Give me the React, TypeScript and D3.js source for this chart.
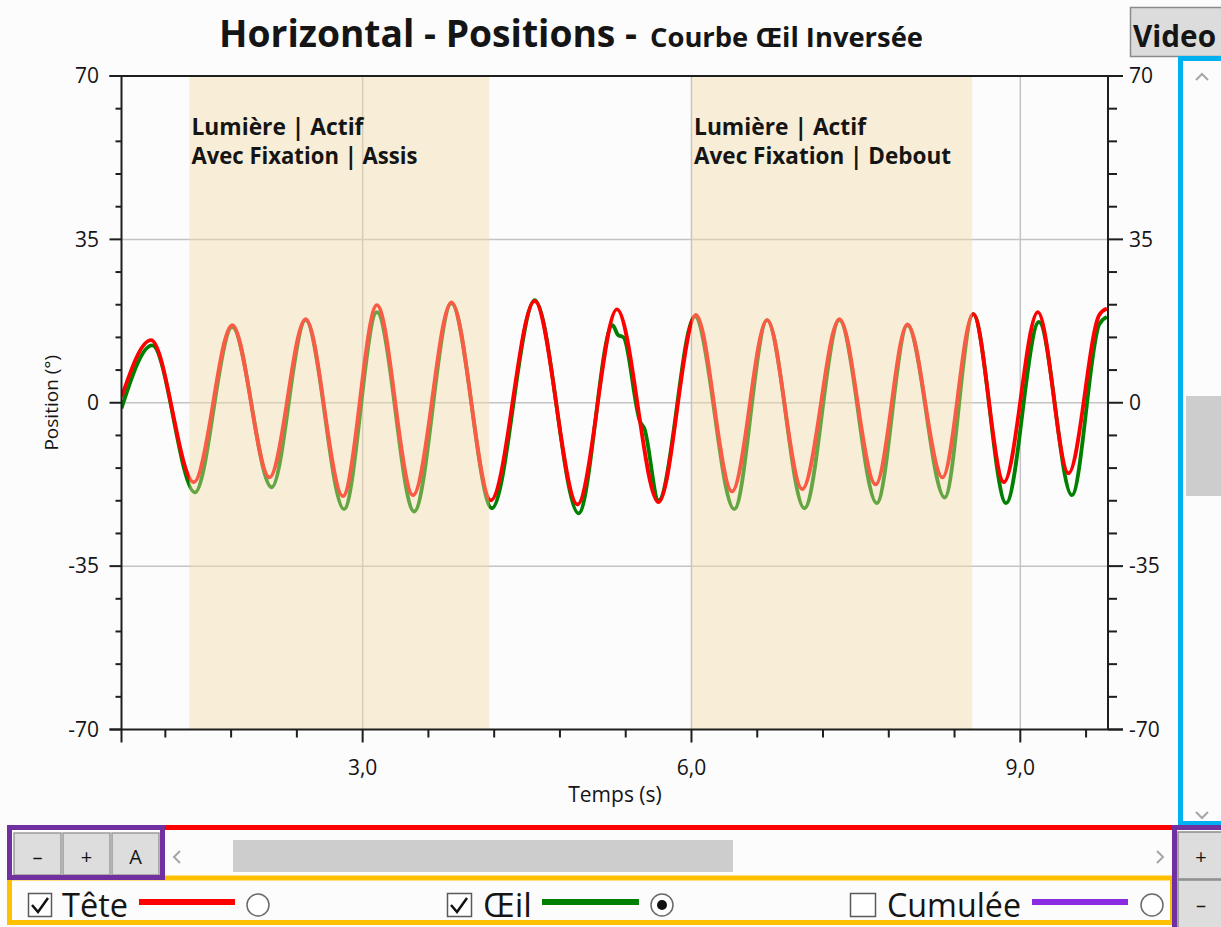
import React from "react";
import * as d3 from "d3";

// ---------- data ----------
const teteT = [0.80, 1.07, 1.46, 1.81, 2.15, 2.48, 2.82, 3.13, 3.46, 3.81, 4.17, 4.57, 4.96, 5.32, 5.70, 6.04, 6.37, 6.69, 7.01, 7.35, 7.68, 7.97, 8.29, 8.57, 8.85, 9.16, 9.44, 9.72, 9.79];
const teteV = [1.2, 13.4, -17.0, 16.6, -16.0, 17.9, -20.0, 20.9, -19.8, 21.5, -20.9, 21.8, -21.8, 20.0, -21.3, 18.8, -19.0, 17.7, -18.5, 17.9, -17.5, 16.8, -16.0, 19.0, -17.0, 19.4, -15.1, 18.8, 20.2];
const oeilT = [0.80, 1.08, 1.47, 1.81, 2.17, 2.48, 2.83, 3.13, 3.47, 3.81, 4.18, 4.57, 4.97, 5.28, 5.33, 5.38, 5.53, 5.57, 5.70, 6.03, 6.39, 6.69, 7.03, 7.35, 7.69, 7.97, 8.31, 8.57, 8.87, 9.17, 9.47, 9.72, 9.79];
const oeilV = [-1.2, 12.3, -19.2, 16.2, -18.1, 17.7, -22.8, 19.4, -23.3, 21.3, -22.6, 22.0, -23.7, 16.6, 14.5, 14.0, -4.0, -5.5, -20.9, 18.5, -22.8, 17.7, -22.6, 17.7, -21.5, 16.6, -20.3, 19.0, -21.5, 17.3, -19.8, 16.8, 18.4];

const regionStart = [1.42, 6.005];
const regionEnd = [4.155, 8.56];
const regionLine1 = ["Lumière | Actif", "Lumière | Actif"];
const regionLine2 = ["Avec Fixation | Assis", "Avec Fixation | Debout"];
const regionLen1 = [172, 172];
const regionLen2 = [226, 257];

const yMajor = [-70, -35, 0, 35, 70];
const yMajorLabels = ["-70", "-35", "0", "35", "70"];
const yMinor = [-63, -56, -49, -42, -28, -21, -14, -7, 7, 14, 21, 28, 42, 49, 56, 63];
const xMajor = [3, 6, 9];
const xMajorLabels = ["3,0", "6,0", "9,0"];
const xMinor = [1.2, 1.8, 2.4, 3.6, 4.2, 4.8, 5.4, 6.6, 7.2, 7.8, 8.4, 9.6];

const FONT = "'Open Sans', 'Noto Sans', sans-serif";
const TXT = "#151515";

export default function App() {
  const x = d3.scaleLinear().domain([0.8, 9.8]).range([121.5, 1108]);
  const y = d3.scaleLinear().domain([-70, 70]).range([729.5, 76]);

  const line = d3
    .line<number>()
    .x((d) => x(d[0]))
    .y((d) => y(d[1]))
    .curve(d3.curveMonotoneX);

  const tete = teteT.map((t, i) => [t, teteV[i]]);
  const oeil = oeilT.map((t, i) => [t, oeilV[i]]);

  const L = 121.5, R = 1108, T = 76, B = 729.5;

  return (
    <svg
      width={1221}
      height={927}
      style={{ position: "absolute", left: 0, top: 0, display: "block" }}
      fontFamily={FONT}
    >
      <rect x={0} y={0} width={1221} height={927} fill="#fcfcfc" />
      <defs>
        <clipPath id="plot">
          <rect x={L} y={T} width={R - L} height={B - T} />
        </clipPath>
      </defs>

      {/* Title */}
      <text x={219} y={47} fontWeight={700} fontSize={37} fill={TXT} textLength={418} lengthAdjust="spacingAndGlyphs">
        Horizontal - Positions -
      </text>
      <text x={650} y={47} fontWeight={700} fontSize={26} fill={TXT} textLength={273} lengthAdjust="spacingAndGlyphs">
        Courbe Œil Inversée
      </text>

      {/* Video button */}
      <rect x={1130.5} y={7.5} width={100} height={49} fill="#dcdcdc" stroke="#8a8a8a" strokeWidth={1.5} />
      <text x={1133} y={47} fontWeight={700} fontSize={31} fill={TXT} textLength={83} lengthAdjust="spacingAndGlyphs">
        Video
      </text>

      {/* plot background */}
      <rect x={L} y={T} width={R - L} height={B - T} fill="#fcfcfc" />

      {/* grid */}
      {yMajor.filter((v) => v !== 70 && v !== -70).map((v) => (
        <line key={"gy" + v} x1={L} x2={R} y1={y(v)} y2={y(v)} stroke="#c4c4c4" strokeWidth={1.5} />
      ))}
      {xMajor.map((v) => (
        <line key={"gx" + v} x1={x(v)} x2={x(v)} y1={T} y2={B} stroke="#c4c4c4" strokeWidth={1.5} />
      ))}

      {/* curves */}
      <g clipPath="url(#plot)">
        <path d={line(oeil as any) || ""} fill="none" stroke="#008000" strokeWidth={3.8} strokeLinejoin="round" />
        <path d={line(tete as any) || ""} fill="none" stroke="#ff0000" strokeWidth={3.8} strokeLinejoin="round" />
      </g>

      {/* shaded regions */}
      {regionStart.map((s, i) => (
        <g key={"reg" + i}>
          <rect x={x(s)} y={T} width={x(regionEnd[i]) - x(s)} height={B - T} fill="rgb(243,216,163)" fillOpacity={0.42} />
          <text x={x(s) + 2} y={135} fontWeight={700} fontSize={22.5} fill={TXT} textLength={regionLen1[i]} lengthAdjust="spacingAndGlyphs">
            {regionLine1[i]}
          </text>
          <text x={x(s) + 2} y={164} fontWeight={700} fontSize={22.5} fill={TXT} textLength={regionLen2[i]} lengthAdjust="spacingAndGlyphs">
            {regionLine2[i]}
          </text>
        </g>
      ))}

      {/* frame */}
      <line x1={L - 12} x2={R + 15} y1={T} y2={T} stroke="#1e1e1e" strokeWidth={2} />
      <line x1={L - 12} x2={R + 15} y1={B} y2={B} stroke="#1e1e1e" strokeWidth={2} />
      <line x1={L} x2={L} y1={T} y2={B + 13} stroke="#1e1e1e" strokeWidth={2} />
      <line x1={R} x2={R} y1={T} y2={B} stroke="#1e1e1e" strokeWidth={2} />

      {/* y ticks */}
      {yMajor.map((v, i) => (
        <g key={"ym" + v}>
          <line x1={L - 12} x2={L} y1={y(v)} y2={y(v)} stroke="#1e1e1e" strokeWidth={2} />
          <line x1={R} x2={R + 15} y1={y(v)} y2={y(v)} stroke="#1e1e1e" strokeWidth={2} />
          <text x={99} y={y(v)} dy="0.35em" textAnchor="end" fontSize={21} fill={TXT}>
            {yMajorLabels[i]}
          </text>
          <text x={1129} y={y(v)} dy="0.35em" textAnchor="start" fontSize={21} fill={TXT}>
            {yMajorLabels[i]}
          </text>
        </g>
      ))}
      {yMinor.map((v) => (
        <g key={"yn" + v}>
          <line x1={L - 6} x2={L} y1={y(v)} y2={y(v)} stroke="#1e1e1e" strokeWidth={2} />
          <line x1={R} x2={R + 9} y1={y(v)} y2={y(v)} stroke="#1e1e1e" strokeWidth={2} />
        </g>
      ))}

      {/* x ticks */}
      {xMajor.map((v, i) => (
        <g key={"xm" + v}>
          <line x1={x(v)} x2={x(v)} y1={B} y2={B + 13} stroke="#1e1e1e" strokeWidth={2} />
          <text x={x(v)} y={775} textAnchor="middle" fontSize={21} fill={TXT}>
            {xMajorLabels[i]}
          </text>
        </g>
      ))}
      {xMinor.map((v) => (
        <line key={"xn" + v} x1={x(v)} x2={x(v)} y1={B} y2={B + 8} stroke="#1e1e1e" strokeWidth={2} />
      ))}

      {/* axis titles */}
      <text x={615} y={802} textAnchor="middle" fontSize={21} fill={TXT}>
        Temps (s)
      </text>
      <text transform={`translate(58, ${y(0)}) rotate(-90)`} textAnchor="middle" fontSize={19} fill={TXT}>
        Position (°)
      </text>

      {/* right vertical scrollbar */}
      <rect x={1186} y={396} width={40} height={100} fill="#cdcdcd" />
      <polyline points="1196,80 1202,74 1208,80" fill="none" stroke="#a6a6a6" strokeWidth={2} />
      <polyline points="1196,812 1202,818 1208,812" fill="none" stroke="#a6a6a6" strokeWidth={2} />
      <rect x={1180.5} y={58.5} width={60} height={765} fill="none" stroke="#00b0f0" strokeWidth={5} />

      {/* horizontal scrollbar */}
      <rect x={165} y={830} width={1007} height={46} fill="#fcfcfc" />
      <rect x={233} y={840} width={500} height={32} fill="#cdcdcd" />
      <polyline points="180,851 174,857 180,863" fill="none" stroke="#a6a6a6" strokeWidth={2} />
      <polyline points="1157,851 1163,857 1157,863" fill="none" stroke="#a6a6a6" strokeWidth={2} />
      <rect x={165} y={825} width={1007} height={5} fill="#ff0000" />

      {/* legend */}
      <rect x={9.5} y={878} width={1163} height={44.5} fill="none" stroke="#ffc000" strokeWidth={5} />
      {/* Tête */}
      <rect x={28.5} y={893.5} width={23} height={23} fill="#fff" stroke="#5a5a5a" strokeWidth={1.5} />
      <polyline points="32,905 38,912 48,898" fill="none" stroke="#111" strokeWidth={2.5} />
      <text x={62} y={917} fontSize={33} fill={TXT} textLength={66} lengthAdjust="spacingAndGlyphs">Tête</text>
      <line x1={139} x2={235} y1={902} y2={902} stroke="#ff0000" strokeWidth={6} />
      <circle cx={258} cy={905} r={11} fill="#fff" stroke="#6a6a6a" strokeWidth={1.5} />
      {/* Œil */}
      <rect x={447.5} y={893.5} width={24} height={23} fill="#fff" stroke="#5a5a5a" strokeWidth={1.5} />
      <polyline points="451,905 457,912 467,898" fill="none" stroke="#111" strokeWidth={2.5} />
      <text x={483} y={917} fontSize={33} fill={TXT} textLength={49} lengthAdjust="spacingAndGlyphs">Œil</text>
      <line x1={542} x2={639} y1={902} y2={902} stroke="#008000" strokeWidth={6} />
      <circle cx={662} cy={905} r={11} fill="#fff" stroke="#6a6a6a" strokeWidth={1.5} />
      <circle cx={662} cy={905} r={5} fill="#111" />
      {/* Cumulée */}
      <rect x={850.5} y={893.5} width={25} height={23} fill="#fff" stroke="#5a5a5a" strokeWidth={1.5} />
      <text x={887} y={917} fontSize={33} fill={TXT} textLength={134} lengthAdjust="spacingAndGlyphs">Cumulée</text>
      <line x1={1032} x2={1128} y1={902} y2={902} stroke="#8a2be2" strokeWidth={6} />
      <circle cx={1152} cy={905} r={11} fill="#fff" stroke="#6a6a6a" strokeWidth={1.5} />

      {/* left buttons */}
      {[
        { x0: 14, w: 47, t: "–" },
        { x0: 63, w: 47, t: "+" },
        { x0: 112, w: 47, t: "A" },
      ].map((b) => (
        <g key={b.t}>
          <rect x={b.x0} y={833} width={b.w} height={42} fill="#dddddd" stroke="#9a9a9a" strokeWidth={1.5} />
          <text x={b.x0 + b.w / 2} y={864} textAnchor="middle" fontSize={20} fill={TXT}>
            {b.t}
          </text>
        </g>
      ))}
      <rect x={9.5} y={827.5} width={153} height={50} fill="none" stroke="#7030a0" strokeWidth={5} />

      {/* right buttons */}
      <rect x={1178} y={832} width={50} height={47} fill="#dddddd" stroke="#8a8a8a" strokeWidth={1.5} />
      <rect x={1178} y={880} width={50} height={50} fill="#dddddd" stroke="#8a8a8a" strokeWidth={1.5} />
      <text x={1201} y={864} textAnchor="middle" fontSize={20} fill={TXT}>+</text>
      <text x={1201} y={912} textAnchor="middle" fontSize={20} fill={TXT}>–</text>
      <rect x={1174.5} y={827.5} width={60} height={110} fill="none" stroke="#7030a0" strokeWidth={5} />
    </svg>
  );
}
